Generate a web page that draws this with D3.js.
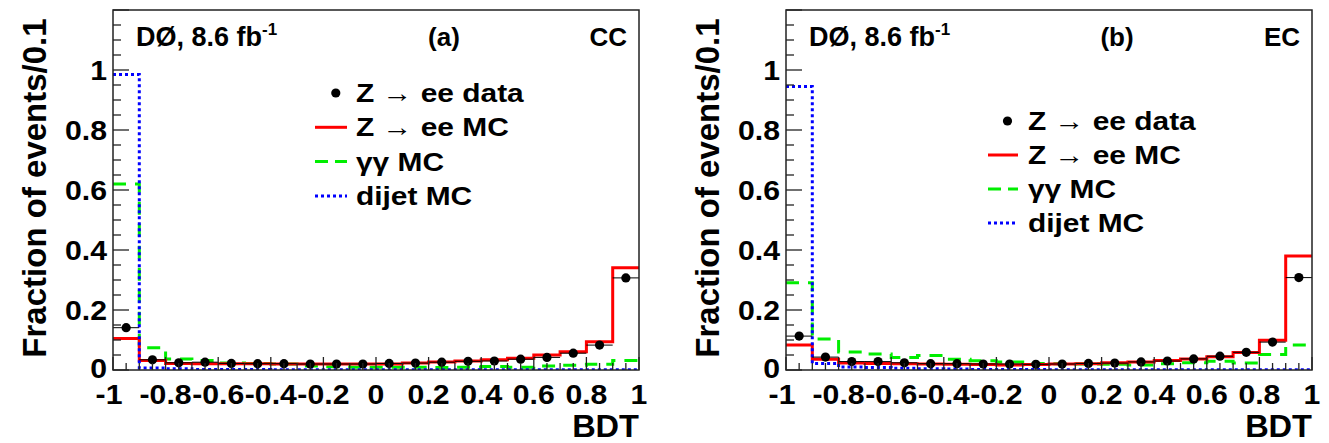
<!DOCTYPE html>
<html><head><meta charset="utf-8">
<script src="https://cdn.jsdelivr.net/npm/d3@7"></script>
<style>
html,body{margin:0;padding:0;background:#fff;}
svg text{font-family:"Liberation Sans",Arial,Helvetica,sans-serif;font-weight:bold;fill:#000;}
</style></head>
<body><svg id="c" width="1329" height="443"></svg>
<script>
// BDT bin lower edges (bin width 0.1)
const binLow = [-1.0,-0.9,-0.8,-0.7,-0.6,-0.5,-0.4,-0.3,-0.2,-0.1,0.0,0.1,0.2,0.3,0.4,0.5,0.6,0.7,0.8,0.9];
const binWidth = 0.1;
const xTicks = [-1,-0.8,-0.6,-0.4,-0.2,0,0.2,0.4,0.6,0.8,1];
const xTickLabels = ["-1","-0.8","-0.6","-0.4","-0.2","0","0.2","0.4","0.6","0.8","1"];
const yTicks = [0,0.2,0.4,0.6,0.8,1];
const yTickLabels = ["0","0.2","0.4","0.6","0.8","1"];

// (a) CC
const ccData   = [0.141,0.034,0.024,0.026,0.022,0.021,0.021,0.020,0.020,0.020,0.022,0.023,0.026,0.029,0.030,0.036,0.042,0.056,0.083,0.307];
const ccZeeMC  = [0.105,0.032,0.022,0.021,0.021,0.021,0.020,0.020,0.020,0.020,0.020,0.023,0.027,0.030,0.034,0.039,0.050,0.061,0.094,0.341];
const ccGGMC   = [0.620,0.074,0.037,0.032,0.023,0.022,0.020,0.013,0.011,0.009,0.009,0.009,0.008,0.009,0.012,0.009,0.013,0.016,0.019,0.032];
const ccDijet  = [0.985,0.007,0.004,0.002,0.002,0.002,0.001,0.001,0.001,0.001,0.001,0.001,0.001,0.001,0.001,0.001,0.001,0.001,0.001,0.001];

// (b) EC
const ecData   = [0.113,0.043,0.028,0.028,0.024,0.021,0.021,0.020,0.020,0.019,0.020,0.022,0.023,0.027,0.030,0.037,0.046,0.059,0.093,0.308];
const ecZeeMC  = [0.083,0.036,0.023,0.022,0.021,0.020,0.019,0.018,0.017,0.018,0.020,0.021,0.024,0.027,0.032,0.037,0.044,0.058,0.099,0.380];
const ecGGMC   = [0.291,0.103,0.060,0.053,0.042,0.048,0.036,0.031,0.027,0.022,0.021,0.020,0.019,0.017,0.021,0.024,0.029,0.023,0.052,0.083];
const ecDijet  = [0.945,0.022,0.010,0.008,0.006,0.004,0.003,0.002,0.002,0.002,0.001,0.001,0.001,0.001,0.001,0.001,0.001,0.001,0.001,0.001];

const legendLabels = ["Z \u2192 ee data","Z \u2192 ee MC","\u03b3\u03b3 MC","dijet MC"];

const svg = d3.select("#c");

// text helper with optional horizontal stretch
function txt(parent, x, y, str, size, anchor, sx){
  const g = parent.append("g").attr("transform","translate("+x+","+y+") scale("+(sx||1)+",1)");
  return g.append("text").attr("text-anchor",anchor||"start").style("font-size",size+"px").text(str);
}

function panel(opt){
  const x = d3.scaleLinear().domain([-1,1]).range([opt.x0, opt.x1]);
  const y = d3.scaleLinear().domain([0,1.2]).range([370,10]);
  const g = svg.append("g");
  const clipId = "clip"+opt.id;
  svg.append("clipPath").attr("id",clipId).append("rect")
    .attr("x",opt.x0).attr("y",10).attr("width",opt.x1-opt.x0).attr("height",360);

  function stepPath(vals){
    let d = "";
    vals.forEach((v,i)=>{
      const xa = x(binLow[i]), xb = x(binLow[i]+binWidth), yy = y(v);
      d += (i===0 ? "M"+xa+","+yy : "L"+xa+","+yy) + "L"+xb+","+yy;
    });
    return d;
  }
  const hg = g.append("g").attr("clip-path","url(#"+clipId+")");
  hg.append("path").attr("d",stepPath(opt.gg)).attr("fill","none")
    .attr("stroke","#00ee00").attr("stroke-width",3).attr("stroke-dasharray","13,9");
  hg.append("path").attr("d",stepPath(opt.zee)).attr("fill","none")
    .attr("stroke","#ff0000").attr("stroke-width",3);
  hg.append("path").attr("d",stepPath(opt.dijet)).attr("fill","none")
    .attr("stroke","#0000ff").attr("stroke-width",3).attr("stroke-dasharray","3,3");

  // data points with x error bars
  const dg = g.append("g");
  opt.data.forEach((v,i)=>{
    dg.append("line").attr("x1",x(binLow[i])).attr("x2",x(binLow[i]+binWidth))
      .attr("y1",y(v)).attr("y2",y(v)).attr("stroke","#000").attr("stroke-width",1);
    dg.append("circle").attr("cx",x(binLow[i]+binWidth/2)).attr("cy",y(v)).attr("r",4.6).attr("fill","#000");
  });

  // frame
  g.append("rect").attr("x",opt.x0).attr("y",10).attr("width",opt.x1-opt.x0).attr("height",360)
    .attr("fill","none").attr("stroke","#222").attr("stroke-width",1.5);

  // y axis ticks
  const yMinor = d3.range(0,1.2001,0.05);
  yMinor.forEach(t=>{
    const major = Math.abs(t/0.2 - Math.round(t/0.2))<1e-6;
    g.append("line").attr("x1",opt.x0).attr("x2",opt.x0+(major?16:8))
      .attr("y1",y(t)).attr("y2",y(t)).attr("stroke","#222").attr("stroke-width",1.3);
  });
  // x axis ticks
  const xMinor = d3.range(-1,1.0001,0.05);
  xMinor.forEach(t=>{
    const major = Math.abs(t/0.2 - Math.round(t/0.2))<1e-6;
    g.append("line").attr("x1",x(t)).attr("x2",x(t))
      .attr("y1",370).attr("y2",370-(major?13:7)).attr("stroke","#222").attr("stroke-width",1.3);
  });

  // tick labels
  yTicks.forEach((t,i)=>{
    txt(g, opt.x0-6, y(t)+(i===0?7.5:9.5), yTickLabels[i], 27, "end", 1.12);
  });
  xTicks.forEach((t,i)=>{
    txt(g, x(t)-(i===0?4:0), 404, xTickLabels[i], 27, "middle", 1.12);
  });

  // axis titles
  txt(g, opt.x1, 437, "BDT", 31, "end", 1.05);
  g.append("text").attr("transform","translate("+(opt.x0-67)+",188) rotate(-90)")
    .attr("text-anchor","middle").style("font-size","33px").text("Fraction of events/0.1");

  // labels
  const gg = g.append("g").attr("transform","translate("+(opt.x0+23)+",46)");
  const t1 = gg.append("text").style("font-size","27px");
  t1.append("tspan").text("D\u00d8, 8.6 fb");
  t1.append("tspan").attr("dy",-11).style("font-size","17px").text("-1");
  txt(g, opt.labX, 46, opt.lab, 26, "middle", 1.0);
  txt(g, opt.x1-12, 46, opt.region, 26, "end", 1.0);

  // legend
  const L = opt.leg;
  const rows = [0,1,2,3].map(k=>L.y0 + k*L.dy);
  g.append("circle").attr("cx",L.lx0+(L.lx1-L.lx0)*0.65).attr("cy",rows[0]).attr("r",4.6).attr("fill","#000");
  g.append("line").attr("x1",L.lx0).attr("x2",L.lx1).attr("y1",rows[1]).attr("y2",rows[1]).attr("stroke","#ff0000").attr("stroke-width",3);
  g.append("line").attr("x1",L.lx0).attr("x2",L.lx1).attr("y1",rows[2]).attr("y2",rows[2]).attr("stroke","#00ee00").attr("stroke-width",3).attr("stroke-dasharray","13,7");
  g.append("line").attr("x1",L.lx0).attr("x2",L.lx1).attr("y1",rows[3]).attr("y2",rows[3]).attr("stroke","#0000ff").attr("stroke-width",3).attr("stroke-dasharray","3,3");
  legendLabels.forEach((s,k)=>{
    txt(g, L.tx, rows[k]+9, s, 26, "start", 1.15);
  });
}

panel({id:"a",x0:113,x1:639,data:ccData,zee:ccZeeMC,gg:ccGGMC,dijet:ccDijet,
  lab:"(a)",labX:444,region:"CC",leg:{lx0:315,lx1:347,tx:356,y0:93,dy:34.3}});
panel({id:"b",x0:786,x1:1312,data:ecData,zee:ecZeeMC,gg:ecGGMC,dijet:ecDijet,
  lab:"(b)",labX:1117,region:"EC",leg:{lx0:988,lx1:1018,tx:1028,y0:121,dy:34}});
</script></body></html>
